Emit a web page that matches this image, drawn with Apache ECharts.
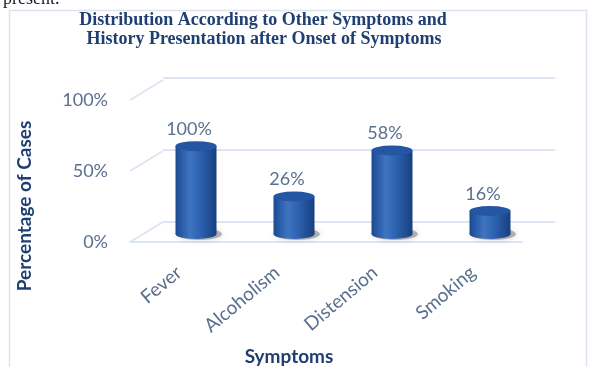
<!DOCTYPE html>
<html>
<head>
<meta charset="utf-8">
<script src="https://cdn.jsdelivr.net/npm/echarts@6/dist/echarts.min.js"></script>
<style>
  html, body { margin: 0; padding: 0; background: #fff; }
  #chart { width: 592px; height: 367px; }
</style>
</head>
<body>
<div id="chart"></div>
<script>
// categories and values
const categories = ['Fever', 'Alcoholism', 'Distension', 'Smoking']
const barHeights = [61, 26, 58, 16]           // drawn cylinder heights (%)
const barLabels = ['100%', '26%', '58%', '16%'] // printed data labels
const yTicks = [0, 50, 100]

const chart = echarts.init(document.getElementById('chart'))

const gridColor = '#dce6f2'
const textColor = '#5b6f8f'
const navy = '#1f3f73'
const depthX = 33, depthY = -20 // perspective offset of back wall

const cylinderFill = new echarts.graphic.LinearGradient(0, 0, 1, 0, [
  { offset: 0, color: '#1b4a92' },
  { offset: 0.35, color: '#3f74c2' },
  { offset: 0.6, color: '#2d62b0' },
  { offset: 1, color: '#173f80' }
])

const option = {
  backgroundColor: '#fff',
  animation: false,
  graphic: [
    { type: 'rect', shape: { x: 9.5, y: 10.5, width: 577, height: 370 }, style: { fill: 'none', stroke: '#dbe4ef', lineWidth: 1.5 } },
    { type: 'text', left: 3, top: -10, style: { text: 'present.', font: '18px "Liberation Serif"', fill: '#222' } },
    { type: 'text', x: 263, y: 11, style: { text: 'Distribution According to Other Symptoms and', font: 'bold 18px "Liberation Serif"', fill: navy, align: 'center' } },
    { type: 'text', x: 264, y: 30, style: { text: 'History Presentation after Onset of Symptoms', font: 'bold 18px "Liberation Serif"', fill: navy, align: 'center' } },
    { type: 'text', x: 25, y: 206, rotation: Math.PI / 2, style: { text: 'Percentage of Cases', font: 'bold 19px Lato', fill: navy, align: 'center', verticalAlign: 'middle' } },
    { type: 'text', x: 289, y: 357, style: { text: 'Symptoms', font: 'bold 19px Lato', fill: navy, align: 'center', verticalAlign: 'middle' } }
  ],
  grid: [
    // back wall
    { left: 163, right: 37, top: 78, bottom: 145 },
    // mid depth, where the cylinders stand
    { left: 147, right: 53, top: 90, bottom: 133 },
    // front edge, carries the axis labels
    { left: 130, right: 70, top: 100, bottom: 125 }
  ],
  xAxis: [
    { gridIndex: 0, type: 'category', data: categories, show: false },
    { gridIndex: 1, type: 'category', data: categories, show: false },
    {
      gridIndex: 2, type: 'category', data: categories,
      axisLine: { show: true, lineStyle: { color: gridColor, width: 2 } },
      axisTick: { show: false },
      axisLabel: { rotate: 40, margin: 28, color: textColor, fontSize: 19, fontFamily: 'Lato' }
    }
  ],
  yAxis: [
    {
      gridIndex: 0, type: 'value', min: 0, max: 100, interval: 50,
      axisLabel: { show: false }, axisLine: { show: false }, axisTick: { show: false },
      splitLine: { lineStyle: { color: gridColor, width: 2 } }
    },
    { gridIndex: 1, type: 'value', min: 0, max: 100, show: false, splitLine: { show: false } },
    {
      gridIndex: 2, type: 'value', min: 0, max: 100, interval: 50,
      axisLine: { show: false }, axisTick: { show: false }, splitLine: { show: false },
      axisLabel: { formatter: '{value}%', color: textColor, fontSize: 18, fontFamily: 'Lato', margin: 22 }
    }
  ],
  series: [
    // diagonal connectors from front labels to back wall
    {
      type: 'custom', xAxisIndex: 2, yAxisIndex: 2, silent: true,
      data: yTicks.map(v => [0, v]),
      renderItem(params, api) {
        const p = api.coord([0, api.value(1)])
        const x0 = params.coordSys.x
        return {
          type: 'line',
          shape: { x1: x0, y1: p[1], x2: x0 + depthX, y2: p[1] + depthY },
          style: { stroke: gridColor, lineWidth: 2 }
        }
      }
    },
    // base shadow
    {
      type: 'pictorialBar', xAxisIndex: 1, yAxisIndex: 1, silent: true,
      data: barHeights, symbol: 'circle', symbolSize: [46, 12], symbolOffset: [3, '50%'],
      symbolPosition: 'start', barGap: '-100%', z: 1,
      itemStyle: { color: 'rgba(60,60,60,0.35)', shadowColor: 'rgba(0,0,0,0.4)', shadowBlur: 6 }
    },
    // cylinder body
    {
      type: 'bar', xAxisIndex: 1, yAxisIndex: 1, data: barHeights,
      barWidth: 41, barGap: '-100%', z: 2,
      itemStyle: { color: cylinderFill }
    },
    // bottom ellipse
    {
      type: 'pictorialBar', xAxisIndex: 1, yAxisIndex: 1, silent: true,
      data: barHeights, symbol: 'circle', symbolSize: [41, 10], symbolOffset: [0, '50%'],
      symbolPosition: 'start', barGap: '-100%', z: 3,
      itemStyle: { color: cylinderFill }
    },
    // top ellipse with data label
    {
      type: 'pictorialBar', xAxisIndex: 1, yAxisIndex: 1,
      data: barHeights, symbol: 'circle', symbolSize: [41, 10], symbolOffset: [0, '-50%'],
      symbolPosition: 'end', barGap: '-100%', z: 4,
      itemStyle: { color: '#2556a3' },
      label: {
        show: true, position: 'top', distance: 3, offset: [-7, 0],
        color: textColor, fontSize: 18, fontFamily: 'Lato',
        formatter: p => barLabels[p.dataIndex]
      }
    }
  ]
}

chart.setOption(option)
</script>
</body>
</html>
